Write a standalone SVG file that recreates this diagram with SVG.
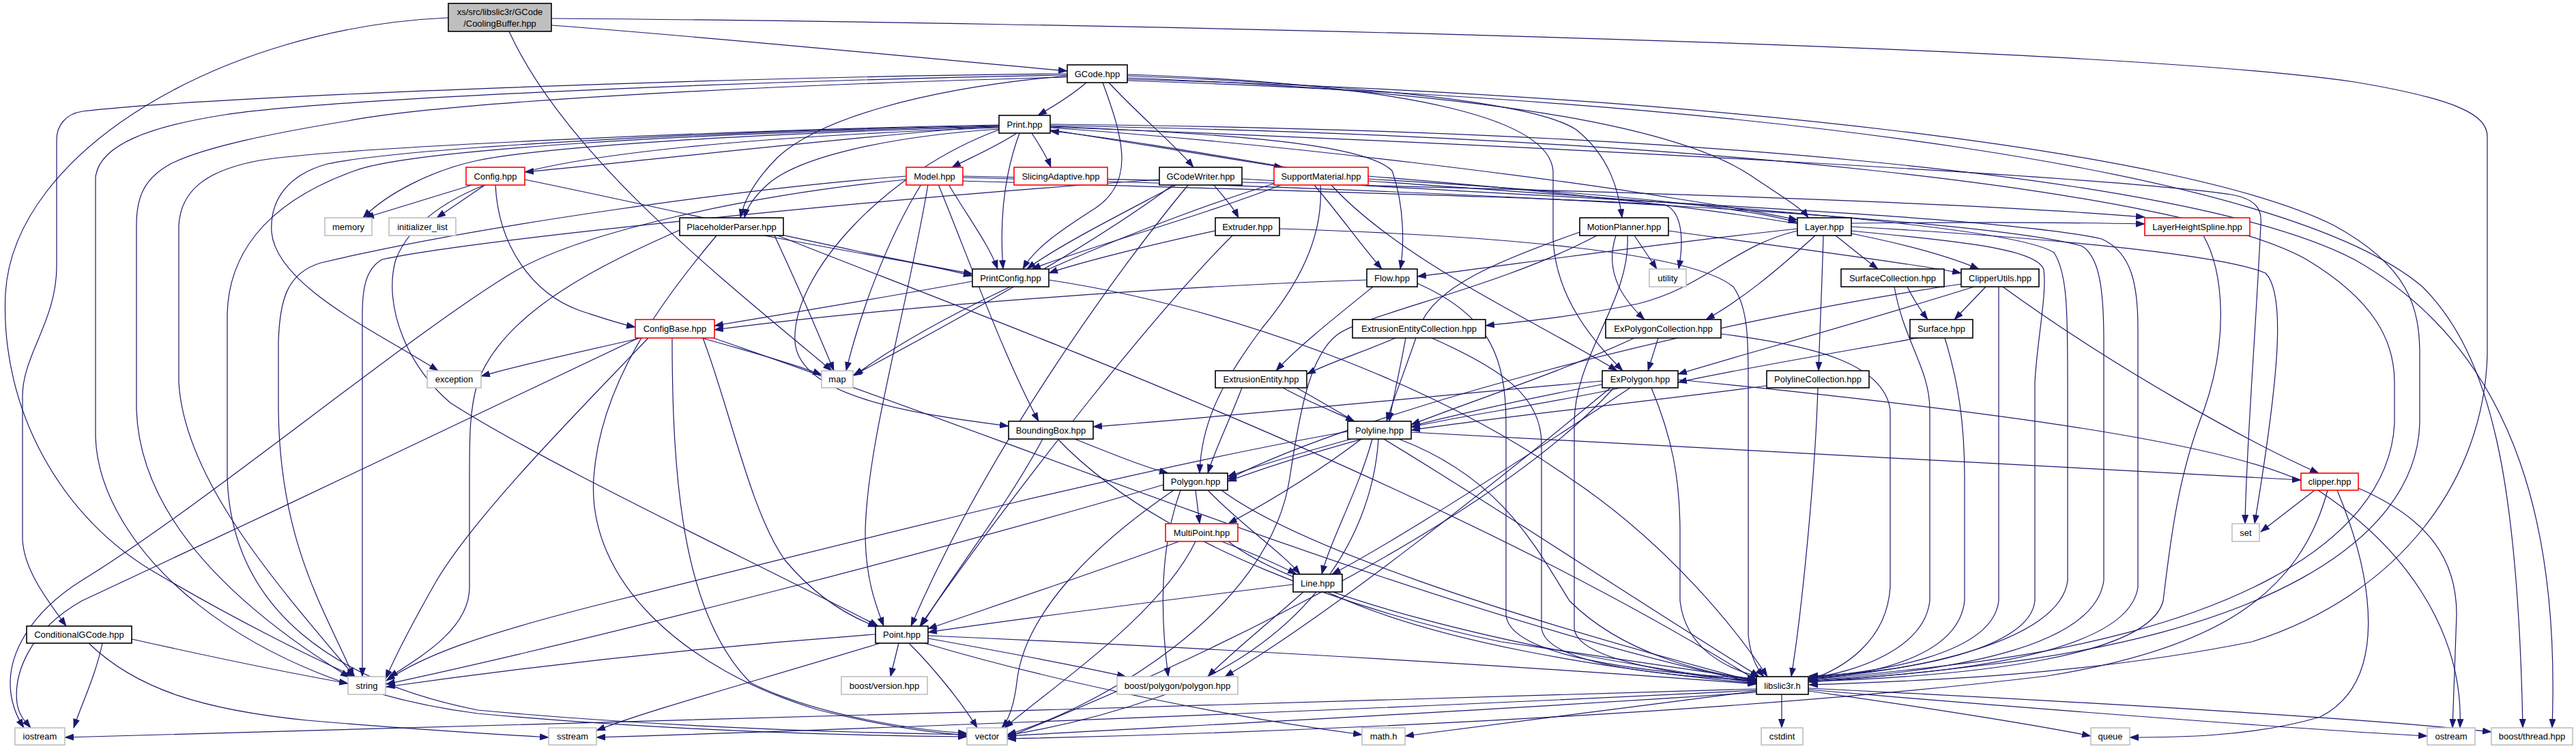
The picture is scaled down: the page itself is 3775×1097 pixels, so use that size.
<svg xmlns="http://www.w3.org/2000/svg" width="3775" height="1097" viewBox="0 0 3775 1097">
<style>
.e{fill:none;stroke:#191970;stroke-width:1.2;marker-end:url(#ah)}
.node rect{fill:#ffffff;stroke:#000000;stroke-width:1.6}
.node.red rect{stroke:#ff0000}
.node.ext rect{stroke:#bfbfbf}
.node.root rect{fill:#bfbfbf}
.node text{font-family:"Liberation Sans",Arial,sans-serif;font-size:13px;fill:#000000;text-anchor:middle}
</style>
<defs>
<marker id="ah" markerWidth="14" markerHeight="10" refX="13" refY="5" orient="auto" markerUnits="userSpaceOnUse"><path d="M0,0 L14,5 L0,10 z" fill="#191970"/></marker>
</defs>
<rect width="3775" height="1097" fill="#ffffff"/>
<g id="edges">
<path class="e" d="M808,37 C1050,55 1350,85 1564,104"/>
<path class="e" d="M808,27 C1500,32 3050,62 3450,120 C3600,145 3645,168 3645,200 L3645,520 C3640,700 3520,870 3300,940 C3050,990 2800,998 2651,1003"/>
<path class="e" d="M746,46 C830,230 1060,410 1219,543"/>
<path class="e" d="M657,26 C330,40 20,220 8,430 C0,600 90,760 230,840 C340,905 450,960 520,991"/>
<path class="e" d="M1592,121 C1570,140 1540,158 1521,169"/>
<path class="e" d="M1616,121 C1645,200 1665,265 1605,305 C1550,340 1515,365 1499,394"/>
<path class="e" d="M1625,121 C1670,170 1720,210 1749,245"/>
<path class="e" d="M1564,111 C1350,130 1200,175 1140,230 C1105,265 1090,295 1085,319"/>
<path class="e" d="M1564,108 C1100,112 320,140 121,163 C95,167 83,185 83,205 L83,390 C83,470 33,520 33,580 L33,790 C35,835 70,880 97,917"/>
<path class="e" d="M1564,113 C1100,125 650,150 510,177 C400,195 300,215 250,240 C210,262 200,290 200,330 L200,600 C205,750 330,880 512,992"/>
<path class="e" d="M1564,110 C1100,118 480,145 330,168 C220,185 145,212 140,260 L140,640 C145,800 350,1000 700,1045 C1000,1073 1300,1078 1417,1079"/>
<path class="e" d="M1652,111 C2000,125 2250,150 2310,190 C2360,230 2372,280 2377,319"/>
<path class="e" d="M1652,109 C2100,125 2270,180 2276,250 L2276,350 C2280,440 2340,505 2378,543"/>
<path class="e" d="M1652,114 C2200,135 2470,190 2570,260 C2615,290 2640,305 2650,319"/>
<path class="e" d="M1652,116 C2500,140 3200,220 3420,330 C3530,390 3546,450 3546,520 L3546,620 C3540,800 3300,930 2900,975 C2780,990 2700,995 2651,999"/>
<path class="e" d="M1652,118 C2600,150 3350,250 3550,420 C3650,520 3690,700 3697,1066"/>
<path class="e" d="M1490,195 C1460,215 1420,232 1395,245"/>
<path class="e" d="M1512,195 C1525,215 1535,232 1540,245"/>
<path class="e" d="M1539,190 C1700,215 1830,238 1880,245"/>
<path class="e" d="M1494,195 C1470,260 1465,330 1470,394"/>
<path class="e" d="M1464,189 C1300,200 1170,230 1125,270 C1103,290 1094,305 1091,319"/>
<path class="e" d="M1464,184 C1250,200 950,235 769,252"/>
<path class="e" d="M1464,186 C1100,195 800,215 700,235 C630,250 565,285 532,319"/>
<path class="e" d="M1539,187 C1900,212 2300,265 2450,290 C2550,305 2600,315 2634,322"/>
<path class="e" d="M1539,185 C1800,196 2000,210 2040,250 C2058,300 2058,360 2052,394"/>
<path class="e" d="M1539,182 C2400,190 3200,250 3450,380 C3700,520 3750,800 3740,1066"/>
<path class="e" d="M1464,183 C1100,190 500,215 380,235 C300,250 265,280 262,330 L262,560 C270,700 400,850 520,991"/>
<path class="e" d="M1464,185 C1000,195 600,220 520,250 C380,300 335,380 333,460 L333,700 C340,900 500,1000 700,1040 C1000,1068 1300,1074 1417,1076"/>
<path class="e" d="M1464,184 C1100,190 600,215 480,240 C425,255 395,290 398,340 C405,420 560,490 642,543"/>
<path class="e" d="M1464,187 C1100,200 850,225 740,260 C650,290 600,330 580,380 C560,450 600,540 660,590 C800,680 1100,820 1287,917"/>
<path class="e" d="M1464,190 C1300,250 1160,400 1165,500 C1170,580 1330,605 1478,624"/>
<path class="e" d="M1539,186 C2300,215 3100,260 3270,285 C3310,292 3315,310 3313,330 C3305,500 3292,650 3290,767"/>
<path class="e" d="M1539,184 C2500,200 3200,280 3380,380 C3480,440 3509,500 3509,560 L3509,620 C3500,800 3250,930 2850,975 C2750,987 2690,992 2651,995"/>
<path class="e" d="M695,270 L535,319"/>
<path class="e" d="M712,270 L640,319"/>
<path class="e" d="M726,270 C730,360 780,430 850,455 C890,468 910,475 931,479"/>
<path class="e" d="M769,263 C1000,310 1250,370 1425,401"/>
<path class="e" d="M1390,270 C1420,320 1450,360 1462,394"/>
<path class="e" d="M1350,270 C1300,350 1260,460 1240,543"/>
<path class="e" d="M1360,270 C1330,450 1270,650 1268,780 C1268,850 1285,890 1295,917"/>
<path class="e" d="M1375,270 C1420,380 1470,520 1522,617"/>
<path class="e" d="M1328,258 C1100,275 700,330 470,385 C420,400 410,440 408,500 L408,600 C410,800 480,900 518,991"/>
<path class="e" d="M1328,263 C1100,285 850,340 750,400 C600,490 300,740 120,850 C40,900 15,960 15,1000 C15,1030 25,1050 35,1066"/>
<path class="e" d="M1411,258 C2000,270 2800,290 3143,318"/>
<path class="e" d="M1411,265 C1900,280 2300,290 2440,300 C2465,310 2468,350 2460,394"/>
<path class="e" d="M1411,260 C2200,280 2900,320 3050,360 C3078,375 3083,430 3083,500 L3083,850 C3070,950 2850,985 2651,996"/>
<path class="e" d="M1778,270 C1795,290 1808,305 1815,319"/>
<path class="e" d="M1725,270 C1650,310 1550,360 1505,394"/>
<path class="e" d="M1699,263 C1300,290 700,350 560,380 C537,393 531,420 531,460 L531,991"/>
<path class="e" d="M1742,270 C1650,380 1450,650 1335,917"/>
<path class="e" d="M1720,270 C1600,360 1400,470 1250,550"/>
<path class="e" d="M1820,262 C2500,300 2950,320 3080,350 C3125,370 3133,420 3133,480 L3133,860 C3120,950 2900,985 2651,997"/>
<path class="e" d="M1885,245 C1750,222 1620,200 1539,192"/>
<path class="e" d="M1925,270 C1960,310 1995,360 2025,394"/>
<path class="e" d="M1880,270 C1750,320 1600,360 1512,394"/>
<path class="e" d="M1935,270 C1940,350 1900,420 1850,480 C1790,560 1760,620 1758,693"/>
<path class="e" d="M1950,270 C2050,380 2250,470 2370,543"/>
<path class="e" d="M1870,268 C1700,320 1400,440 1252,550"/>
<path class="e" d="M2005,262 C2300,280 2550,300 2634,326"/>
<path class="e" d="M2005,258 C2400,290 2750,330 2900,394"/>
<path class="e" d="M2005,265 C2500,300 2950,330 3010,370 C3030,400 3030,460 3030,560 L3030,850 C3020,940 2800,985 2651,993"/>
<path class="e" d="M1781,338 C1680,360 1580,385 1537,400"/>
<path class="e" d="M1806,345 C1700,450 1500,700 1348,917"/>
<path class="e" d="M1875,335 C2200,345 2480,370 2540,420 C2562,450 2562,500 2562,560 L2562,930 C2565,960 2575,980 2585,991"/>
<path class="e" d="M1120,345 C1250,370 1350,385 1425,404"/>
<path class="e" d="M1135,345 C1170,420 1200,490 1222,543"/>
<path class="e" d="M996,337 C900,380 740,450 700,560 C688,600 688,640 688,700 L688,860 C688,920 620,960 570,992"/>
<path class="e" d="M1140,345 C1400,450 2100,700 2575,997"/>
<path class="e" d="M1050,345 C970,440 880,560 870,700 C860,850 1000,980 1200,1040 C1320,1070 1390,1075 1417,1077"/>
<path class="e" d="M1425,412 C1300,435 1150,460 1047,477"/>
<path class="e" d="M1537,410 C1800,450 2100,560 2300,700 C2450,800 2550,930 2590,991"/>
<path class="e" d="M940,495 C850,515 760,535 705,551"/>
<path class="e" d="M1028,495 C1100,515 1170,535 1204,549"/>
<path class="e" d="M950,495 C850,600 700,750 640,850 C600,920 580,960 565,994"/>
<path class="e" d="M940,493 C800,560 400,750 120,880 C40,925 20,990 25,1030 C28,1050 40,1060 45,1066"/>
<path class="e" d="M985,495 C985,700 1000,900 1100,1000 C1200,1050 1350,1070 1417,1074"/>
<path class="e" d="M1030,495 C1070,600 1100,750 1150,820 C1200,880 1250,905 1285,918"/>
<path class="e" d="M1045,495 C1500,650 2100,900 2574,1000"/>
<path class="e" d="M193,936 C300,960 420,985 510,1001"/>
<path class="e" d="M150,942 C140,990 120,1030 108,1066"/>
<path class="e" d="M130,942 C200,1010 300,1040 450,1055 C600,1068 720,1075 804,1080"/>
<path class="e" d="M2003,410 C1700,420 1300,450 1047,483"/>
<path class="e" d="M2012,420 C1950,470 1900,510 1870,543"/>
<path class="e" d="M2077,415 C2180,460 2207,520 2207,620 L2207,900 C2210,960 2400,985 2574,994"/>
<path class="e" d="M2395,345 L2428,394"/>
<path class="e" d="M2445,338 C2600,360 2800,385 2874,400"/>
<path class="e" d="M2368,345 C2350,400 2380,440 2410,468"/>
<path class="e" d="M2385,345 C2390,440 2307,520 2307,620 L2307,920 C2310,965 2450,988 2574,998"/>
<path class="e" d="M2315,340 C2200,380 2100,420 2080,480 C2060,540 2040,590 2032,617"/>
<path class="e" d="M2340,345 C2200,420 2000,460 1960,490 C1920,520 1905,600 1890,700 C1860,900 1600,1040 1476,1076"/>
<path class="e" d="M2634,335 C2400,360 2200,390 2077,405"/>
<path class="e" d="M2634,338 C2540,360 2500,420 2400,445 C2300,465 2220,472 2177,477"/>
<path class="e" d="M2660,345 C2600,400 2550,440 2500,468"/>
<path class="e" d="M2690,345 C2715,365 2740,385 2752,394"/>
<path class="e" d="M2672,345 C2670,420 2667,480 2665,543"/>
<path class="e" d="M2713,327 C2900,325 3050,326 3143,328"/>
<path class="e" d="M2713,332 C2950,345 3250,370 3320,400 C3350,430 3340,550 3304,767"/>
<path class="e" d="M2713,338 C2850,352 2985,362 2995,395 C3000,430 2985,500 2982,560 L2982,880 C2975,950 2800,985 2651,990"/>
<path class="e" d="M3229,345 C3260,400 3265,500 3230,600 C3190,700 3180,800 3170,880 C3150,960 2900,990 2651,998"/>
<path class="e" d="M2795,420 C2805,440 2815,455 2825,468"/>
<path class="e" d="M2776,420 C2790,500 2828,540 2828,600 L2828,880 C2820,950 2720,985 2651,993"/>
<path class="e" d="M2910,420 L2864,468"/>
<path class="e" d="M2893,420 C2700,480 2550,520 2459,548"/>
<path class="e" d="M2935,420 C3100,540 3300,650 3398,693"/>
<path class="e" d="M2929,420 L2929,880 C2920,960 2750,985 2651,992"/>
<path class="e" d="M2874,416 C2500,470 2000,600 1799,702"/>
<path class="e" d="M2810,495 C2700,515 2550,540 2459,560"/>
<path class="e" d="M2850,495 C2870,560 2879,620 2879,700 L2879,880 C2870,960 2750,988 2651,994"/>
<path class="e" d="M2045,495 C2000,515 1950,530 1915,548"/>
<path class="e" d="M2060,495 C2050,550 2040,590 2036,617"/>
<path class="e" d="M2098,495 C2200,540 2259,580 2259,650 L2259,920 C2265,970 2420,990 2574,996"/>
<path class="e" d="M2430,495 L2415,543"/>
<path class="e" d="M2395,495 C2300,540 2150,590 2068,622"/>
<path class="e" d="M2522,489 C2650,505 2760,530 2770,600 L2770,860 C2765,940 2700,980 2651,996"/>
<path class="e" d="M1820,568 C1800,620 1780,660 1770,693"/>
<path class="e" d="M1880,568 C1920,590 1960,605 1985,617"/>
<path class="e" d="M1900,568 C2100,680 2350,850 2578,991"/>
<path class="e" d="M2375,568 C2250,595 2120,612 2068,626"/>
<path class="e" d="M2348,563 C2150,600 1950,650 1799,705"/>
<path class="e" d="M2348,558 C2100,580 1800,610 1602,625"/>
<path class="e" d="M2389,568 C2250,660 2050,790 1952,841"/>
<path class="e" d="M2360,568 C2200,700 1950,900 1795,991"/>
<path class="e" d="M2420,568 C2450,640 2462,700 2462,780 L2462,880 C2470,950 2530,980 2578,991"/>
<path class="e" d="M2365,568 C2200,750 1800,950 1476,1080"/>
<path class="e" d="M2459,556 C2900,600 3300,650 3400,720 C3550,820 3610,950 3605,1066"/>
<path class="e" d="M2589,565 C2400,590 2200,610 2068,630"/>
<path class="e" d="M2664,568 C2660,700 2640,900 2625,991"/>
<path class="e" d="M1575,643 C1630,665 1680,685 1712,693"/>
<path class="e" d="M1528,643 C1470,750 1390,850 1350,917"/>
<path class="e" d="M1550,643 C1700,800 2000,900 2200,940 C2400,970 2500,985 2574,995"/>
<path class="e" d="M1980,643 C1900,665 1850,680 1799,698"/>
<path class="e" d="M1995,643 C1920,700 1850,740 1800,767"/>
<path class="e" d="M2011,643 C1990,720 1950,790 1937,841"/>
<path class="e" d="M1975,632 C1700,680 1300,780 900,880 C700,930 620,960 566,997"/>
<path class="e" d="M2020,643 C2010,800 1900,950 1700,1020 C1600,1055 1520,1070 1476,1077"/>
<path class="e" d="M2050,643 C2200,700 2250,800 2300,880 C2380,960 2500,985 2574,997"/>
<path class="e" d="M2068,633 C2600,660 3100,690 3372,703"/>
<path class="e" d="M1752,718 L1758,767"/>
<path class="e" d="M1770,718 C1820,770 1880,810 1905,841"/>
<path class="e" d="M1705,710 C1400,800 900,930 566,1002"/>
<path class="e" d="M1720,718 C1600,800 1500,900 1490,1000 C1485,1040 1475,1058 1468,1066"/>
<path class="e" d="M1730,718 C1700,800 1700,900 1712,991"/>
<path class="e" d="M1790,718 C1900,800 2200,900 2574,999"/>
<path class="e" d="M1728,793 C1600,840 1450,890 1360,921"/>
<path class="e" d="M1790,793 C1840,812 1875,828 1900,841"/>
<path class="e" d="M1752,793 C1700,900 1550,1000 1472,1066"/>
<path class="e" d="M1800,793 C1900,870 2200,950 2574,1000"/>
<path class="e" d="M1895,856 C1700,880 1500,905 1360,926"/>
<path class="e" d="M1910,867 C1850,920 1800,960 1770,991"/>
<path class="e" d="M1945,867 C2100,940 2350,980 2574,1001"/>
<path class="e" d="M1283,929 C1000,950 750,980 566,1006"/>
<path class="e" d="M1317,942 L1305,991"/>
<path class="e" d="M1332,942 C1370,980 1410,1030 1432,1066"/>
<path class="e" d="M1360,935 C1500,960 1600,980 1650,991"/>
<path class="e" d="M1360,931 C1800,950 2300,980 2574,1002"/>
<path class="e" d="M1355,942 C1550,1000 1800,1050 1996,1076"/>
<path class="e" d="M1290,942 C1100,1000 950,1040 874,1070"/>
<path class="e" d="M2611,1017 L2611,1066"/>
<path class="e" d="M2574,1012 C2350,1040 2150,1065 2059,1078"/>
<path class="e" d="M2650,1012 C2850,1040 3000,1065 3064,1078"/>
<path class="e" d="M2650,1010 C3000,1040 3400,1070 3557,1078"/>
<path class="e" d="M2650,1008 C3100,1030 3500,1055 3651,1072"/>
<path class="e" d="M2574,1009 C1800,1035 700,1060 95,1080"/>
<path class="e" d="M2574,1011 C2000,1040 1200,1070 874,1080"/>
<path class="e" d="M2574,1014 C2200,1040 1700,1065 1476,1078"/>
<path class="e" d="M3392,718 L3313,779"/>
<path class="e" d="M3425,718 C3480,850 3500,1000 3400,1050 C3300,1080 3180,1080 3121,1080"/>
<path class="e" d="M3456,715 C3560,760 3600,820 3600,900 L3594,1066"/>
<path class="e" d="M3411,718 C3370,870 3250,950 3000,990 C2500,1050 1800,1075 1476,1082"/>
</g>
<g id="n_root" class="node root"><rect x="657" y="5" width="151" height="41"/><text x="732.5" y="22">xs/src/libslic3r/GCode</text><text x="732.5" y="39">/CoolingBuffer.hpp</text></g>
<g id="n_gcode" class="node"><rect x="1564" y="95" width="88" height="26"/><text x="1608" y="112.5">GCode.hpp</text></g>
<g id="n_print" class="node"><rect x="1464" y="169" width="75" height="26"/><text x="1501.5" y="186.5">Print.hpp</text></g>
<g id="n_config" class="node red"><rect x="683" y="245" width="86" height="26"/><text x="726" y="262.5">Config.hpp</text></g>
<g id="n_model" class="node red"><rect x="1328" y="245" width="83" height="26"/><text x="1369.5" y="262.5">Model.hpp</text></g>
<g id="n_slicing" class="node red"><rect x="1486" y="245" width="137" height="26"/><text x="1554.5" y="262.5">SlicingAdaptive.hpp</text></g>
<g id="n_gcodewriter" class="node"><rect x="1699" y="245" width="121" height="26"/><text x="1759.5" y="262.5">GCodeWriter.hpp</text></g>
<g id="n_support" class="node red"><rect x="1867" y="245" width="138" height="26"/><text x="1936" y="262.5">SupportMaterial.hpp</text></g>
<g id="n_memory" class="node ext"><rect x="476" y="319" width="69" height="26"/><text x="510.5" y="336.5">memory</text></g>
<g id="n_initlist" class="node ext"><rect x="570" y="319" width="98" height="26"/><text x="619" y="336.5">initializer_list</text></g>
<g id="n_placeholder" class="node"><rect x="996" y="319" width="152" height="26"/><text x="1072" y="336.5">PlaceholderParser.hpp</text></g>
<g id="n_extruder" class="node"><rect x="1781" y="319" width="94" height="26"/><text x="1828" y="336.5">Extruder.hpp</text></g>
<g id="n_motion" class="node"><rect x="2315" y="319" width="130" height="26"/><text x="2380" y="336.5">MotionPlanner.hpp</text></g>
<g id="n_layer" class="node"><rect x="2634" y="319" width="79" height="26"/><text x="2673.5" y="336.5">Layer.hpp</text></g>
<g id="n_lhs" class="node red"><rect x="3143" y="319" width="154" height="26"/><text x="3220" y="336.5">LayerHeightSpline.hpp</text></g>
<g id="n_printconfig" class="node"><rect x="1425" y="394" width="112" height="26"/><text x="1481" y="411.5">PrintConfig.hpp</text></g>
<g id="n_flow" class="node"><rect x="2003" y="394" width="74" height="26"/><text x="2040" y="411.5">Flow.hpp</text></g>
<g id="n_utility" class="node ext"><rect x="2417" y="394" width="54" height="26"/><text x="2444" y="411.5">utility</text></g>
<g id="n_surfcoll" class="node"><rect x="2698" y="394" width="151" height="26"/><text x="2773.5" y="411.5">SurfaceCollection.hpp</text></g>
<g id="n_clipperutils" class="node"><rect x="2874" y="394" width="114" height="26"/><text x="2931" y="411.5">ClipperUtils.hpp</text></g>
<g id="n_configbase" class="node red"><rect x="931" y="468" width="116" height="27"/><text x="989" y="486">ConfigBase.hpp</text></g>
<g id="n_eec" class="node"><rect x="1982" y="468" width="195" height="27"/><text x="2079.5" y="486">ExtrusionEntityCollection.hpp</text></g>
<g id="n_epc" class="node"><rect x="2353" y="468" width="169" height="27"/><text x="2437.5" y="486">ExPolygonCollection.hpp</text></g>
<g id="n_surface" class="node"><rect x="2799" y="468" width="92" height="27"/><text x="2845" y="486">Surface.hpp</text></g>
<g id="n_exception" class="node ext"><rect x="626" y="543" width="79" height="25"/><text x="665.5" y="560">exception</text></g>
<g id="n_map" class="node ext"><rect x="1204" y="543" width="46" height="25"/><text x="1227" y="560">map</text></g>
<g id="n_ee" class="node"><rect x="1781" y="543" width="134" height="25"/><text x="1848" y="560">ExtrusionEntity.hpp</text></g>
<g id="n_expolygon" class="node"><rect x="2348" y="543" width="111" height="25"/><text x="2403.5" y="560">ExPolygon.hpp</text></g>
<g id="n_plc" class="node"><rect x="2589" y="543" width="150" height="25"/><text x="2664" y="560">PolylineCollection.hpp</text></g>
<g id="n_bbox" class="node"><rect x="1478" y="617" width="124" height="26"/><text x="1540" y="634.5">BoundingBox.hpp</text></g>
<g id="n_polyline" class="node"><rect x="1975" y="617" width="93" height="26"/><text x="2021.5" y="634.5">Polyline.hpp</text></g>
<g id="n_polygon" class="node"><rect x="1705" y="693" width="94" height="25"/><text x="1752" y="710">Polygon.hpp</text></g>
<g id="n_clipper" class="node red"><rect x="3372" y="693" width="84" height="25"/><text x="3414" y="710">clipper.hpp</text></g>
<g id="n_multipoint" class="node red"><rect x="1708" y="767" width="106" height="26"/><text x="1761" y="784.5">MultiPoint.hpp</text></g>
<g id="n_set" class="node ext"><rect x="3271" y="767" width="40" height="26"/><text x="3291" y="784.5">set</text></g>
<g id="n_line" class="node"><rect x="1895" y="841" width="72" height="26"/><text x="1931" y="858.5">Line.hpp</text></g>
<g id="n_condgcode" class="node"><rect x="39" y="917" width="154" height="25"/><text x="116" y="934">ConditionalGCode.hpp</text></g>
<g id="n_point" class="node"><rect x="1283" y="917" width="77" height="25"/><text x="1321.5" y="934">Point.hpp</text></g>
<g id="n_string" class="node ext"><rect x="510" y="991" width="55" height="26"/><text x="537.5" y="1008.5">string</text></g>
<g id="n_bversion" class="node ext"><rect x="1233" y="991" width="126" height="26"/><text x="1296" y="1008.5">boost/version.hpp</text></g>
<g id="n_bpolygon" class="node ext"><rect x="1637" y="991" width="177" height="26"/><text x="1725.5" y="1008.5">boost/polygon/polygon.hpp</text></g>
<g id="n_libslic3r" class="node"><rect x="2574" y="991" width="76" height="26"/><text x="2612" y="1008.5">libslic3r.h</text></g>
<g id="n_iostream" class="node ext"><rect x="22" y="1066" width="73" height="25"/><text x="58.5" y="1083">iostream</text></g>
<g id="n_sstream" class="node ext"><rect x="804" y="1066" width="70" height="25"/><text x="839" y="1083">sstream</text></g>
<g id="n_vector" class="node ext"><rect x="1417" y="1066" width="59" height="25"/><text x="1446.5" y="1083">vector</text></g>
<g id="n_math" class="node ext"><rect x="1996" y="1066" width="63" height="25"/><text x="2027.5" y="1083">math.h</text></g>
<g id="n_cstdint" class="node ext"><rect x="2581" y="1066" width="61" height="25"/><text x="2611.5" y="1083">cstdint</text></g>
<g id="n_queue" class="node ext"><rect x="3064" y="1066" width="57" height="25"/><text x="3092.5" y="1083">queue</text></g>
<g id="n_ostream" class="node ext"><rect x="3557" y="1066" width="70" height="25"/><text x="3592" y="1083">ostream</text></g>
<g id="n_bthread" class="node ext"><rect x="3651" y="1066" width="119" height="25"/><text x="3710.5" y="1083">boost/thread.hpp</text></g>
</svg>
